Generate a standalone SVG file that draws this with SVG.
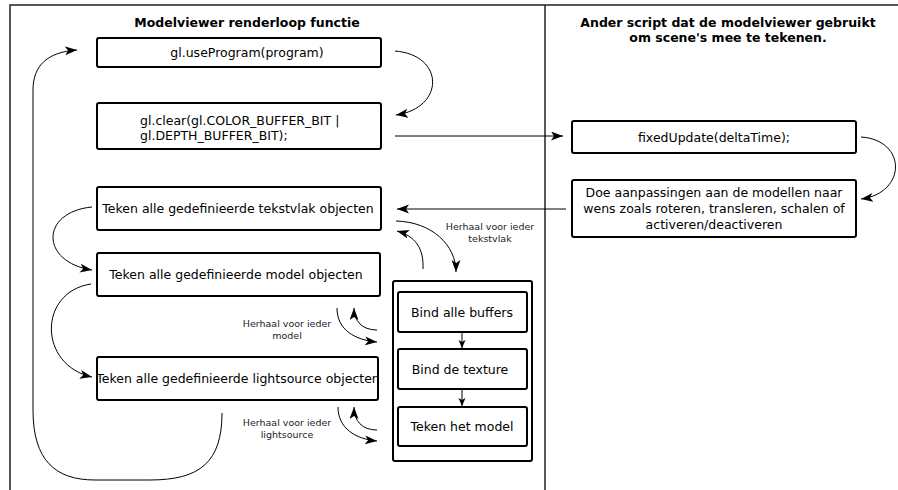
<svg xmlns="http://www.w3.org/2000/svg" width="898" height="490" viewBox="0 0 898 490">
  <defs>
    <style>
      text { font-family: "DejaVu Sans", "Liberation Sans", sans-serif; fill: #000; }
      .title { font-size: 12.5px; font-weight: bold; }
      .lbl { font-size: 12.5px; }
      .small { font-size: 9.5px; fill: #222; }
      .box { fill: #fff; stroke: #000; stroke-width: 2; }
      .frame { fill: none; stroke: #222; stroke-width: 1.5; }
      .conn path { fill: none; stroke: #000; stroke-width: 1; }
      .arr { marker-end: url(#arrow); }
      .arr-s { marker-end: url(#arrowSmall); }
    </style>
    <marker id="arrow" markerUnits="userSpaceOnUse" markerWidth="13" markerHeight="10" refX="12" refY="4.5" orient="auto">
      <path d="M0,0 L12,4.5 L0,9 L3,4.5 Z" fill="#000"/>
    </marker>
    <marker id="arrowSmall" markerUnits="userSpaceOnUse" markerWidth="9" markerHeight="8" refX="8" refY="3.5" orient="auto">
      <path d="M0,0 L8,3.5 L0,7 L2,3.5 Z" fill="#000"/>
    </marker>
  </defs>

  <rect width="898" height="490" fill="#fff"/>

  <!-- swimlane frame -->
  <g id="lanes">
    <path class="frame" d="M10,490 L10,5 L898,5"/>
    <path class="frame" d="M545,5 L545,490"/>
    <text class="title" x="247" y="27" text-anchor="middle">Modelviewer renderloop functie</text>
    <text class="title" x="728" y="27" text-anchor="middle">Ander script dat de modelviewer gebruikt</text>
    <text class="title" x="728" y="42" text-anchor="middle">om scene's mee te tekenen.</text>
  </g>

  <!-- repeat labels -->
  <g id="repeat-labels">
    <text class="small" x="490" y="230" text-anchor="middle">Herhaal voor ieder</text>
    <text class="small" x="490" y="242" text-anchor="middle">tekstvlak</text>
    <text class="small" x="287" y="327" text-anchor="middle">Herhaal voor ieder</text>
    <text class="small" x="287" y="339" text-anchor="middle">model</text>
    <text class="small" x="287" y="426" text-anchor="middle">Herhaal voor ieder</text>
    <text class="small" x="287" y="438" text-anchor="middle">lightsource</text>
  </g>

  <g id="use-program">
    <rect class="box" x="97" y="38" width="284" height="29" rx="2"/>
    <text class="lbl" x="247" y="57" text-anchor="middle">gl.useProgram(program)</text>
  </g>

  <g id="clear">
    <rect class="box" x="97" y="103" width="284" height="46" rx="2"/>
    <text class="lbl" x="140" y="125">gl.clear(gl.COLOR_BUFFER_BIT |</text>
    <text class="lbl" x="140" y="140">gl.DEPTH_BUFFER_BIT);</text>
  </g>

  <g id="fixed-update">
    <rect class="box" x="572" y="121" width="284" height="32" rx="2"/>
    <text class="lbl" x="714" y="141.5" text-anchor="middle">fixedUpdate(deltaTime);</text>
  </g>

  <g id="adjust-models">
    <rect class="box" x="572" y="180" width="284" height="57" rx="2"/>
    <text class="lbl" x="714" y="197" text-anchor="middle">Doe aanpassingen aan de modellen naar</text>
    <text class="lbl" x="714" y="213" text-anchor="middle">wens zoals roteren, transleren, schalen of</text>
    <text class="lbl" x="714" y="229" text-anchor="middle">activeren/deactiveren</text>
  </g>

  <g id="draw-textfields">
    <rect class="box" x="97" y="187" width="284" height="43" rx="2"/>
    <text class="lbl" x="238" y="213" text-anchor="middle">Teken alle gedefinieerde tekstvlak objecten</text>
  </g>

  <g id="draw-models">
    <rect class="box" x="97" y="253" width="283" height="43" rx="2"/>
    <text class="lbl" x="236" y="279" text-anchor="middle">Teken alle gedefinieerde model objecten</text>
  </g>

  <g id="draw-lightsources">
    <rect class="box" x="97" y="357" width="281" height="43" rx="2"/>
    <text class="lbl" x="238" y="383" text-anchor="middle">Teken alle gedefinieerde lightsource objecten</text>
  </g>

  <g id="draw-steps">
    <rect class="box" x="393" y="281" width="139" height="180" rx="2" stroke-width="1.8"/>
  </g>

  <g id="bind-buffers">
    <rect class="box" x="398" y="292" width="129" height="40" rx="2"/>
    <text class="lbl" x="462" y="316.5" text-anchor="middle">Bind alle buffers</text>
  </g>

  <g id="bind-texture">
    <rect class="box" x="398" y="349" width="129" height="40" rx="2"/>
    <text class="lbl" x="460" y="373.5" text-anchor="middle">Bind de texture</text>
  </g>

  <g id="draw-model">
    <rect class="box" x="398" y="407" width="129" height="39" rx="2"/>
    <text class="lbl" x="462" y="431" text-anchor="middle">Teken het model</text>
  </g>

  <!-- connectors, drawn on top of the step container -->
  <g id="connectors" class="conn">
    <path class="arr" d="M395,51 C445,55 445,108 396,115"/>
    <path class="arr" d="M395,136 L563,136"/>
    <path class="arr" d="M861,137 C907,140 907,193 861,199"/>
    <path class="arr" d="M566,209 L397,209"/>
    <path class="arr" d="M92,207 C40,212 40,262 92,270"/>
    <path class="arr" d="M91,284 C38,292 38,365 92,377"/>
    <path class="arr" d="M222,413 C222,462 200,480 150,480 L95,480 C55,480 33,460 33,410 L33,90 C33,65 48,52 77,50"/>
    <path class="arr" d="M396,221 C432,222 456,245 456,272"/>
    <path class="arr" d="M423,269 C424,248 415,236 397,231"/>
    <path class="arr" d="M337,308 C337,330 355,340 377,342"/>
    <path class="arr" d="M377,330 C362,330 354,321 354,308"/>
    <path class="arr" d="M338,407 C338,428 355,439 377,441"/>
    <path class="arr" d="M377,430 C362,430 354,421 354,407"/>
    <path class="arr-s" d="M462,333 L462,348"/>
    <path class="arr-s" d="M462,390 L462,406"/>
  </g>
</svg>
